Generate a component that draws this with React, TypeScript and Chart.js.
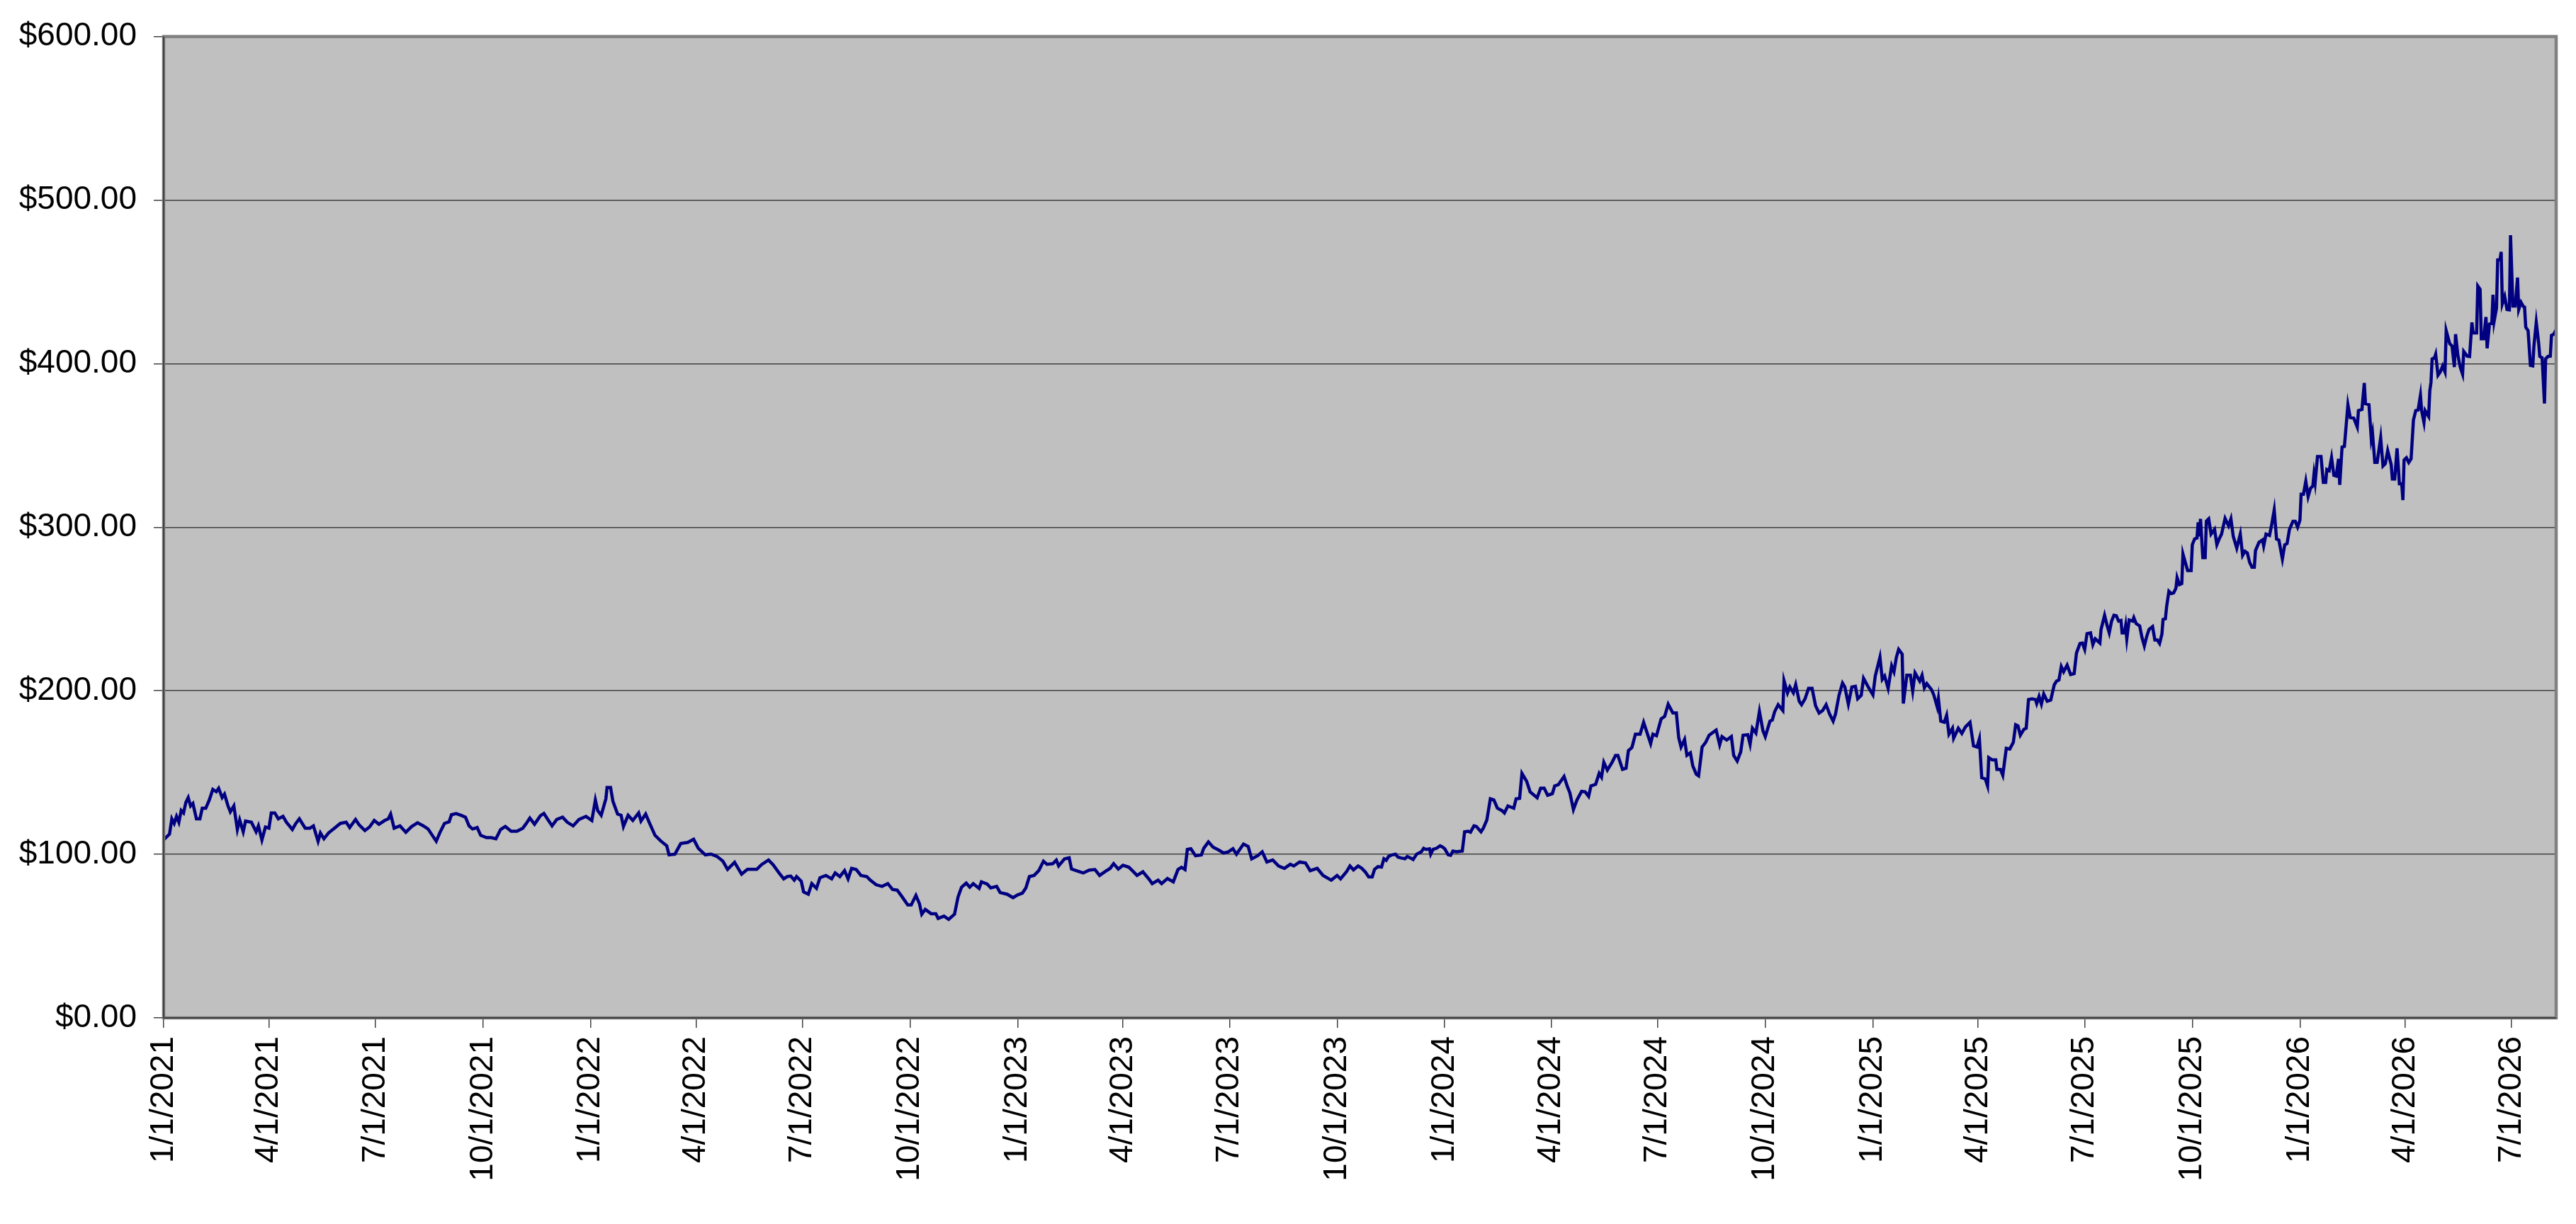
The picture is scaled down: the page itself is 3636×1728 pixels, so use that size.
import React, { useEffect, useRef } from 'react';
import { Chart, registerables } from 'chart.js';

Chart.register(...registerables);

// x axis tick labels (quarter starts)
const tickLabels = [
  '1/1/2021', '4/1/2021', '7/1/2021', '10/1/2021',
  '1/1/2022', '4/1/2022', '7/1/2022', '10/1/2022',
  '1/1/2023', '4/1/2023', '7/1/2023', '10/1/2023',
  '1/1/2024', '4/1/2024', '7/1/2024', '10/1/2024',
  '1/1/2025', '4/1/2025', '7/1/2025', '10/1/2025',
  '1/1/2026', '4/1/2026', '7/1/2026',
];

// days since 1/1/2021
const days = [
  0, 5, 7, 9, 11, 13, 15, 17, 19, 21,
  23, 25, 28, 31, 33, 36, 39, 42, 45, 47,
  50, 52, 55, 57, 60, 63, 65, 68, 70, 75,
  79, 81, 84, 87, 90, 92, 95, 98, 102, 105,
  110, 113, 116, 121, 125, 128, 132, 134, 137, 141,
  146, 151, 156, 159, 164, 167, 172, 176, 180, 184,
  189, 192, 194, 197, 202, 207, 212, 217, 222, 226,
  233, 236, 240, 244, 246, 250, 254, 258, 261, 264,
  268, 271, 276, 280, 284, 288, 292, 297, 302, 307,
  310, 313, 317, 322, 325, 328, 332, 336, 341, 345,
  350, 355, 361, 366, 369, 371, 374, 378, 379, 382,
  384, 388, 391, 393, 397, 401, 406, 408, 412, 415,
  420, 425, 430, 432, 437, 442, 448, 453, 457, 463,
  468, 473, 478, 482, 488, 494, 499, 507, 511,
  // 2022-2023
  517, 521, 526, 530, 533, 536, 539, 541, 545, 547,
  551, 554, 558, 561, 566, 571, 574, 578, 582, 585,
  588, 592, 596, 601, 604, 609, 614, 619, 623, 627,
  631, 636, 639, 643, 646, 648, 651, 656, 660, 662,
  667, 671, 676, 679, 682, 686, 689, 692, 697, 699,
  704, 707, 712, 715, 721, 726, 730, 734, 737, 740,
  744, 748, 752, 755, 760, 763, 765, 770, 774, 776,
  780, 786, 791, 796, 800, 805, 809, 812, 816, 820,
  825, 828, 832, 837, 842, 845, 850, 853, 858, 863,
  867, 870, 873, 875, 878, 882, 887, 889, 893, 897,
  902, 906, 910, 914, 917, 923, 927, 930, 935, 939,
  943, 948, 953, 958, 963, 966, 971, 976, 980, 986,
  991, 998, 1003, 1006,
  // late 2023
  1011, 1014, 1017, 1021, 1024, 1027, 1030, 1033, 1035, 1038,
  1041, 1043, 1045, 1047, 1050, 1053, 1055, 1058, 1061, 1063,
  1066, 1068, 1071, 1075, 1077, 1079, 1082, 1083, 1085, 1088,
  1091, 1093, 1095, 1098, 1100, 1102, 1105, 1110, 1112, 1115,
  1117, 1120, 1122, 1126, 1128, 1131,
  // 2024-2025
  1134, 1137, 1140, 1144, 1146, 1149, 1154, 1156, 1159, 1161,
  1165, 1168, 1174, 1177, 1180, 1183, 1187, 1189, 1192, 1197,
  1200, 1202, 1205, 1208, 1212, 1215, 1218, 1220, 1224, 1227,
  1229, 1231, 1234, 1238, 1241, 1243, 1247, 1250, 1252, 1255,
  1258, 1262, 1265, 1268, 1271, 1273, 1276, 1280, 1283, 1286,
  1290, 1293, 1295, 1297, 1300, 1302, 1305, 1307, 1310, 1312,
  1315, 1318, 1321, 1325, 1327, 1330, 1332, 1336, 1340, 1342,
  1345, 1348, 1350, 1354, 1356, 1358, 1361, 1364, 1367, 1369,
  1373, 1375, 1377, 1380, 1384, 1385, 1388, 1390, 1393, 1395,
  1398, 1400, 1403, 1406, 1409, 1412, 1415, 1418, 1421, 1424,
  1427, 1429, 1432, 1435, 1437, 1440, 1443, 1446, 1448, 1451,
  1453, 1457, 1461, 1463, 1467, 1469, 1471, 1474, 1477, 1479,
  1481, 1483, 1486, 1487, 1490, 1493, 1495, 1497, 1501, 1503,
  1505, 1507, 1511, 1513, 1516, 1517, 1519, 1522, 1524, 1526,
  1529, 1530, 1534, 1537, 1540,
  // 2025
  1544, 1547, 1550, 1552, 1554, 1557, 1559, 1560, 1563, 1566,
  1567, 1570, 1572, 1575, 1578, 1581, 1583, 1585, 1587, 1590,
  1592, 1594, 1597, 1600, 1601, 1603, 1605, 1607, 1610, 1613,
  1616, 1618, 1620, 1622, 1624, 1627, 1630, 1633, 1635, 1638,
  1640, 1642, 1644, 1647, 1649, 1651, 1655, 1656, 1659, 1661,
  1663, 1665, 1667, 1669, 1671, 1673, 1674, 1676, 1677, 1678,
  1680, 1683, 1684, 1686, 1689, 1691, 1693, 1695, 1697, 1700,
  1702, 1704, 1706, 1708, 1709, 1711, 1712, 1714, 1716, 1718,
  1720, 1721, 1723, 1725, 1726, 1728, 1730, 1733, 1734, 1736,
  1738, 1739, 1740, 1741, 1743, 1745, 1746, 1748, 1750, 1753,
  1755, 1757, 1759, 1762, 1765, 1767, 1769, 1772, 1775, 1777,
  1779, 1781, 1783, 1785, 1787, 1788, 1791, 1794, 1795, 1797,
  // 2026
  1800, 1802, 1804, 1806, 1808, 1811, 1813, 1815, 1817, 1820,
  1822, 1824, 1826, 1827, 1829, 1831, 1833, 1835, 1837, 1838,
  1839, 1841, 1844, 1846, 1848, 1849, 1851, 1853, 1855, 1857,
  1859, 1860, 1862, 1864, 1867, 1869, 1872, 1875, 1876, 1879,
  1881, 1882, 1885, 1887, 1888, 1890, 1892, 1894, 1895, 1897,
  1899, 1901, 1904, 1905, 1907, 1909, 1911, 1913, 1914, 1915,
  1917, 1919, 1921, 1923, 1925, 1927, 1929, 1930, 1932, 1933,
  1936, 1937, 1938, 1939, 1941, 1942, 1944, 1946, 1948, 1950,
  1951, 1954, 1956, 1958, 1959, 1961, 1963, 1965, 1966, 1969,
  1971, 1973, 1974, 1977, 1978, 1980, 1981, 1983, 1985, 1986,
  1988, 1990, 1991, 1992, 1994, 1995, 1997, 1998, 1999, 2001,
  2003, 2005, 2006, 2008, 2010, 2012, 2013, 2015, 2017, 2018,
  2019, 2021, 2023, 2025, 2026, 2028, 2030, 2031, 2033, 2035,
  2036, 2038, 2040, 2041, 2043, 2045,
];

// closing price
const prices = [
  108.8, 112.4, 121.7, 118.9, 123.2, 119.6, 126.8, 125.3, 131.8, 134.7,
  129.6, 131.1, 121.7, 121.7, 128.2, 128.2, 133.2, 139.7, 138.3, 140.4,
  134.7, 136.8, 129.6, 126.0, 129.6, 115.2, 121.0, 113.8, 120.3, 119.6,
  113.8, 117.4, 108.8, 116.7, 116.0, 125.3, 125.3, 121.7, 123.2, 119.6,
  115.2, 118.9, 121.7, 116.0, 116.0, 117.4, 108.0, 113.1, 109.5, 113.1,
  116.0, 118.9, 119.6, 116.4, 121.3, 118.1, 114.5, 116.7, 120.7, 118.4,
  120.7, 121.7, 124.6, 116.0, 117.4, 113.5, 117.0, 119.3, 117.4, 115.5,
  108.0, 113.1, 118.9, 119.9, 124.2, 124.9, 123.9, 122.7, 117.4, 115.5,
  116.4, 111.6, 110.2, 110.2, 109.5, 115.2, 117.0, 114.1, 114.1, 116.0,
  118.9, 122.2, 118.4, 123.6, 125.0, 121.7, 117.4, 121.3, 122.7, 119.6,
  117.4, 121.3, 123.2, 120.7, 133.2, 126.8, 123.9, 134.0, 140.9, 140.9,
  132.5, 124.6, 123.9, 117.0, 123.9, 120.7, 125.3, 120.3, 124.6, 119.6,
  111.6, 108.1, 105.2, 99.7, 100.1, 106.6, 107.3, 109.2, 103.7, 99.7,
  100.1, 98.7, 95.8, 90.8, 95.1, 87.9, 90.8, 90.8, 93.7,
  // 2022-2023
  96.5, 93.6, 88.6, 85.0, 86.4, 86.7, 84.2, 86.4, 83.5, 77.0,
  75.6, 82.1, 79.2, 85.7, 87.1, 85.0, 88.6, 86.4, 90.0, 85.0,
  91.4, 90.7, 87.1, 86.4, 84.2, 81.4, 80.4, 82.1, 78.5, 78.1,
  74.2, 69.1, 69.1, 74.9, 69.9, 63.4, 66.3, 63.7, 63.7, 60.8,
  62.2, 60.2, 63.4, 73.9, 79.9, 82.4, 79.9, 82.1, 79.2, 83.2,
  81.8, 79.5, 80.4, 76.6, 75.6, 73.5, 75.2, 76.3, 79.5, 86.4,
  87.1, 90.0, 95.8, 93.9, 94.3, 96.5, 92.9, 97.2, 97.9, 91.0,
  90.0, 88.6, 90.3, 90.7, 87.1, 89.6, 91.4, 94.3, 91.0, 93.3,
  92.1, 90.0, 87.1, 89.3, 85.0, 82.1, 84.2, 82.1, 85.2, 83.2,
  90.7, 92.1, 90.7, 103.0, 103.4, 99.1, 99.6, 103.7, 107.6, 104.4,
  102.5, 100.8, 101.5, 103.4, 100.1, 106.3, 104.8, 97.2, 99.1, 101.5,
  95.3, 96.5, 92.9, 91.4, 93.9, 92.9, 95.3, 94.7, 90.0, 91.4,
  87.1, 84.2, 87.1, 85.0,
  // late 2023
  89.3, 92.9, 90.5, 92.9, 91.5, 89.3, 86.2, 86.2, 90.8, 92.5,
  92.2, 97.3, 96.3, 98.7, 99.7, 100.1, 98.3, 97.7, 97.3, 98.7,
  97.7, 96.8, 100.1, 101.6, 103.7, 103.0, 103.4, 100.1, 103.0, 103.7,
  105.2, 104.5, 103.4, 99.7, 99.4, 102.0, 101.6, 102.0, 113.8, 114.1,
  113.5, 117.4, 117.0, 113.8, 116.0, 121.0,
  // 2024-2025
  133.9, 133.2, 128.2, 126.7, 125.3, 129.6, 128.2, 133.9, 134.2, 149.5,
  144.7, 138.2, 134.6, 140.4, 140.4, 136.1, 137.1, 141.8, 142.5, 147.6,
  141.1, 137.5, 127.4, 133.2, 138.5, 138.2, 135.4, 141.8, 142.8, 149.5,
  147.2, 156.2, 151.5, 156.2, 160.5, 160.5, 151.9, 152.6, 163.4, 165.3,
  173.5, 173.5, 180.7, 174.2, 167.7, 173.5, 172.5, 182.8, 184.3, 191.8,
  186.4, 186.4, 171.3, 165.6, 170.2, 160.5, 162.0, 154.1, 149.0, 148.0,
  165.6, 168.4, 172.8, 174.9, 175.9, 167.0, 172.0, 169.9, 172.0, 160.5,
  157.0, 162.7, 172.8, 173.1, 167.3, 177.1, 174.2, 187.4, 175.6, 172.0,
  181.4, 182.1, 187.2, 191.5, 187.9, 206.2, 198.7, 202.3, 198.7, 203.7,
  193.6, 191.5, 195.1, 201.5, 201.5, 190.8, 186.4, 187.9, 191.5, 185.7,
  181.4, 185.7, 197.2, 204.7, 202.3, 191.8, 202.3, 202.7, 195.1, 197.2,
  207.6, 202.3, 197.5, 209.0, 220.5, 207.0, 209.0, 201.5, 215.2, 211.6,
  220.3, 225.3, 222.4, 192.2, 209.5, 209.5, 199.8, 210.9, 205.9, 209.5,
  201.8, 204.4, 200.8, 197.5, 190.0, 195.1, 181.4, 180.7, 185.0, 173.5,
  177.1, 171.0, 177.1, 173.9, 177.8,
  // 2025
  180.7, 166.3, 165.6, 170.6, 146.9, 146.1, 141.8, 159.1, 157.7, 157.7,
  151.9, 151.9, 148.3, 164.8, 164.4, 168.4, 179.2, 178.5, 172.8, 176.4,
  177.1, 194.6, 195.1, 194.6, 192.2, 196.5, 191.8, 198.0, 193.6, 194.3,
  203.7, 205.9, 206.6, 214.8, 211.6, 215.7, 209.9, 210.5, 223.1, 228.9,
  229.2, 225.3, 234.9, 235.4, 228.2, 231.8, 229.2, 237.5, 246.2, 240.4,
  235.4, 242.6, 246.2, 245.9, 242.6, 243.0, 235.4, 235.4, 239.7, 231.8,
  243.3, 242.6, 244.7, 241.1, 239.7, 232.5, 227.4, 233.2, 237.5, 239.2,
  231.1, 231.1, 228.9, 234.6, 243.6, 244.0, 251.2, 260.8, 259.4, 259.8,
  262.7, 269.2, 264.9, 265.6, 283.6, 278.5, 273.5, 273.5, 289.3, 292.9,
  293.4, 303.0, 294.4, 305.1, 281.4, 281.4, 303.7, 305.1, 295.8, 298.7,
  289.3, 292.9, 295.8, 305.4, 300.8, 305.1, 294.4, 287.2, 295.8, 282.8,
  285.3, 284.3, 278.5, 275.6, 275.6, 285.7, 290.8, 292.2, 288.6, 295.8,
  // 2026
  295.0, 302.2, 310.5, 292.8, 292.1, 280.6, 289.2, 290.0, 298.6, 303.6,
  303.6, 300.0, 304.3, 320.2, 320.2, 328.1, 318.7, 323.8, 325.2, 332.4,
  327.4, 343.2, 343.2, 327.4, 327.4, 335.3, 334.6, 342.5, 331.7, 331.3,
  341.8, 325.9, 349.0, 349.4, 374.9, 367.0, 366.7, 361.2, 371.3, 372.0,
  388.2, 375.6, 374.9, 354.0, 357.6, 339.6, 339.6, 349.7, 354.7, 337.4,
  338.9, 346.8, 338.2, 329.5, 329.5, 348.2, 326.6, 326.6, 316.6, 341.1,
  342.5, 339.6, 341.8, 365.5, 371.3, 371.6, 380.6, 371.3, 364.1, 371.3,
  367.7, 383.5, 388.5, 402.9, 403.6, 405.8, 392.9, 395.0, 398.6, 395.0,
  420.2, 412.3, 410.8, 397.9, 418.0, 405.1, 397.9, 393.6, 407.5, 404.6,
  404.4, 425.2, 418.8, 418.8, 447.5, 445.4, 415.2, 415.2, 428.5, 409.4,
  424.2, 424.8, 442.1, 426.0, 433.9, 463.4, 463.6, 468.4, 436.7, 441.1,
  433.1, 432.9, 478.5, 435.3, 435.3, 452.6, 433.1, 437.5, 434.9, 434.6,
  422.3, 420.2, 398.9, 398.6, 410.8, 425.2, 413.0, 404.4, 403.6, 375.6,
  402.9, 404.4, 404.6, 417.3, 418.0, 420.9,
];

const yTicks = [0, 100, 200, 300, 400, 500, 600];

const dayOf = (label: string) => {
  const [m, d, y] = label.split('/').map(Number);
  return Math.round((Date.UTC(y, m - 1, d) - Date.UTC(2021, 0, 1)) / 86400000);
};

const tickDays = tickLabels.map(dayOf);

// grey plot area and its frame, like the spreadsheet chart
const plotFrame = {
  id: 'plotFrame',
  beforeDraw(chart: any) {
    const { ctx, chartArea: a } = chart;
    ctx.save();
    ctx.fillStyle = '#c0c0c0';
    ctx.fillRect(a.left, a.top, a.right - a.left, a.bottom - a.top);
    ctx.restore();
  },
  afterDatasetsDraw(chart: any) {
    const { ctx, chartArea: a } = chart;
    ctx.save();
    ctx.strokeStyle = '#808080';
    ctx.lineWidth = 4.5;
    ctx.strokeRect(a.left, a.top, a.right - a.left, a.bottom - a.top);
    ctx.strokeStyle = '#404040';
    ctx.lineWidth = 2;
    ctx.beginPath();
    ctx.moveTo(a.left, a.top);
    ctx.lineTo(a.left, a.bottom);
    ctx.lineTo(a.right, a.bottom);
    ctx.stroke();
    ctx.restore();
  },
};

const App = () => {
  const canvasRef = useRef<HTMLCanvasElement | null>(null);

  useEffect(() => {
    if (!canvasRef.current) return;
    Chart.defaults.font.family = '"Liberation Sans", Arial, sans-serif';

    const n = Math.min(days.length, prices.length);
    const points = [];
    for (let i = 0; i < n; i++) points.push({ x: days[i], y: prices[i] });

    const chart = new Chart(canvasRef.current, {
      type: 'line',
      data: {
        datasets: [
          {
            data: points,
            borderColor: '#000080',
            borderWidth: 4.5,
            pointRadius: 0,
            tension: 0,
            fill: false,
          },
        ],
      },
      options: {
        animation: false,
        responsive: false,
        devicePixelRatio: 1,
        layout: { padding: { top: 44, right: 28, left: 0, bottom: 0 } },
        plugins: {
          legend: { display: false },
          tooltip: { enabled: false },
        },
        scales: {
          x: {
            type: 'linear',
            min: 0,
            max: days[n - 1],
            afterBuildTicks: (scale: any) => {
              scale.ticks = tickDays.map((v) => ({ value: v }));
            },
            afterFit: (scale: any) => {
              scale.height = 291;
            },
            ticks: {
              autoSkip: false,
              maxRotation: 90,
              minRotation: 90,
              padding: 12,
              color: '#000',
              font: { size: 46 },
              callback: (_v: any, i: number) => tickLabels[i],
            },
            grid: {
              drawOnChartArea: false,
              drawTicks: true,
              tickLength: 14,
              color: '#404040',
              lineWidth: 1.5,
            },
            border: { display: false },
          },
          y: {
            min: 0,
            max: 600,
            afterBuildTicks: (scale: any) => {
              scale.ticks = yTicks.map((v) => ({ value: v }));
            },
            afterFit: (scale: any) => {
              scale.width = 231;
            },
            ticks: {
              padding: 24,
              color: '#000',
              font: { size: 46 },
              callback: (v: any) => '$' + Number(v).toFixed(2),
            },
            grid: {
              drawTicks: true,
              tickLength: 14,
              color: '#404040',
              lineWidth: 1.5,
            },
            border: { display: false },
          },
        },
      },
      plugins: [plotFrame],
    });

    return () => {
      chart.destroy();
    };
  }, []);

  return (
    <div style={{ position: 'fixed', left: 0, top: 0, width: 3636, height: 1728, background: '#fff' }}>
      <canvas ref={canvasRef} width={3636} height={1728} />
    </div>
  );
};

export default App;
